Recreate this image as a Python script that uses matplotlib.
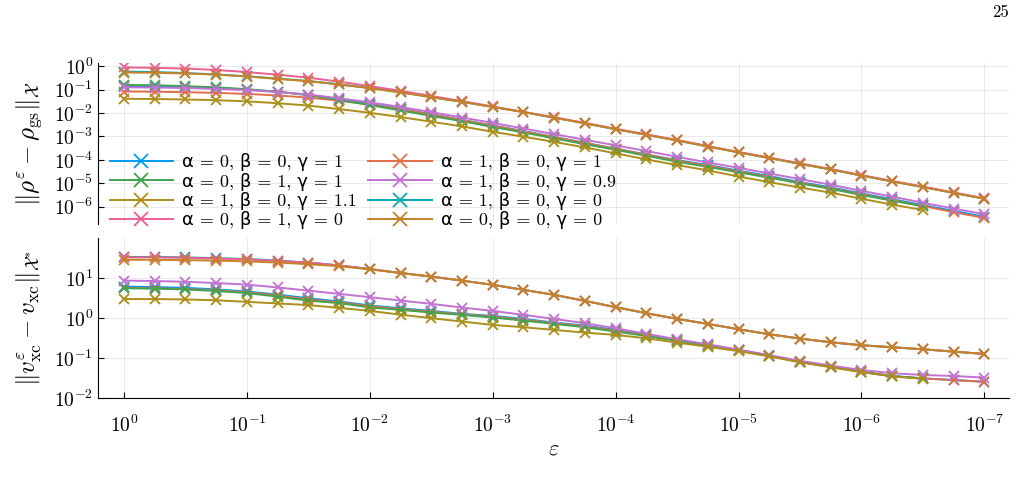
import matplotlib
matplotlib.use("Agg")
import matplotlib.pyplot as plt
from matplotlib.ticker import NullLocator
import numpy as np

plt.rcParams["mathtext.fontset"] = "cm"
plt.rcParams["font.family"] = ["cmr10", "DejaVu Sans"]
plt.rcParams["axes.formatter.use_mathtext"] = True

# epsilon grid: 10^0 ... 10^-7, four points per decade
eps = np.logspace(0, -7, 29)

labels = [
    "α = 0, β = 0, γ = 1",
    "α = 1, β = 0, γ = 1",
    "α = 0, β = 1, γ = 1",
    "α = 1, β = 0, γ = 0.9",
    "α = 1, β = 0, γ = 1.1",
    "α = 1, β = 0, γ = 0",
    "α = 0, β = 1, γ = 0",
    "α = 0, β = 0, γ = 0",
]
colors = ["#009AFA", "#E36F47", "#3EA44E", "#C371D2",
          "#AC8E18", "#00A9AD", "#ED5E93", "#C68225"]

# log10 of ||rho^eps - rho_gs|| (top panel)
rho_blue = [-0.86, -0.87, -0.90, -0.94, -1.00, -1.09, -1.22, -1.40, -1.60, -1.82,
            -2.05, -2.29, -2.53, -2.77, -3.02, -3.27, -3.52, -3.77, -4.01, -4.22,
            -4.46, -4.69, -4.95, -5.17, -5.43, -5.68, -5.93, -6.18, -6.43]
rho_orange = [-1.08, -1.09, -1.11, -1.14, -1.18, -1.25, -1.34, -1.47, -1.64, -1.84,
              -2.06, -2.30, -2.54, -2.78, -3.03, -3.28, -3.53, -3.78, -4.03, -4.25,
              -4.49, -4.73, -4.98, -5.21, -5.47, -5.72, -5.97, -6.23, -6.48]
rho_green = [-0.80, -0.81, -0.85, -0.90, -0.98, -1.09, -1.24, -1.44, -1.66, -1.89,
             -2.12, -2.35, -2.59, -2.83, -3.08, -3.33, -3.57, -3.82, -4.08, -4.30,
             -4.53, -4.76, -5.00, -5.24, -5.50, -5.74, -5.98]
rho_purple = [-0.90, -0.91, -0.93, -0.97, -1.02, -1.10, -1.21, -1.37, -1.54, -1.74,
              -1.96, -2.19, -2.42, -2.66, -2.90, -3.14, -3.38, -3.62, -3.87, -4.11,
              -4.34, -4.58, -4.82, -5.06, -5.32, -5.57, -5.83, -6.08, -6.32]
rho_gold = [-1.39, -1.40, -1.42, -1.45, -1.50, -1.58, -1.68, -1.83, -1.99, -2.17,
            -2.37, -2.57, -2.80, -3.01, -3.23, -3.47, -3.72, -3.98, -4.22, -4.45,
            -4.71, -4.95, -5.18, -5.40, -5.66, -5.91, -6.14]
rho_teal = [-0.23, -0.25, -0.29, -0.35, -0.43, -0.53, -0.63, -0.77, -0.93, -1.11,
            -1.32, -1.52, -1.74, -1.96, -2.20, -2.44, -2.69, -2.93, -3.17, -3.43,
            -3.68, -3.92, -4.17, -4.41, -4.67, -4.92, -5.16, -5.41, -5.66]
rho_pink = [-0.05, -0.07, -0.10, -0.16, -0.25, -0.36, -0.49, -0.66, -0.85, -1.05,
            -1.27, -1.49, -1.72, -1.95, -2.18, -2.42, -2.67, -2.91, -3.15, -3.41,
            -3.66, -3.90, -4.15, -4.39, -4.65, -4.90, -5.14, -5.39, -5.64]
rho_brown = [-0.27, -0.28, -0.31, -0.36, -0.44, -0.54, -0.64, -0.78, -0.94, -1.12,
             -1.32, -1.52, -1.74, -1.96, -2.20, -2.44, -2.69, -2.93, -3.17, -3.43,
             -3.68, -3.92, -4.17, -4.41, -4.67, -4.92, -5.16, -5.41, -5.66]

# log10 of ||v_xc^eps - v_xc|| (bottom panel)
v_blue = [0.78, 0.77, 0.75, 0.71, 0.66, 0.58, 0.49, 0.41, 0.31, 0.24,
          0.175, 0.10, 0.05, -0.025, -0.117, -0.192, -0.30, -0.425, -0.55, -0.675,
          -0.80, -0.942, -1.092, -1.217, -1.342, -1.45, -1.508, -1.55, -1.592]
v_orange = [0.75, 0.74, 0.72, 0.69, 0.64, 0.56, 0.46, 0.39, 0.29, 0.22,
            0.155, 0.09, 0.03, -0.045, -0.13, -0.21, -0.32, -0.44, -0.56, -0.68,
            -0.80, -0.945, -1.095, -1.22, -1.345, -1.455, -1.51, -1.555, -1.595]
v_green = [0.74, 0.73, 0.71, 0.67, 0.62, 0.53, 0.43, 0.37, 0.26, 0.20,
           0.133, 0.075, 0.008, -0.067, -0.15, -0.233, -0.342, -0.45, -0.575, -0.69,
           -0.81, -0.95, -1.10, -1.225, -1.35, -1.455, -1.51]
v_purple = [0.93, 0.92, 0.90, 0.87, 0.83, 0.76, 0.68, 0.60, 0.517, 0.433,
            0.35, 0.258, 0.175, 0.075, -0.025, -0.133, -0.258, -0.40, -0.533, -0.66,
            -0.79, -0.93, -1.07, -1.19, -1.30, -1.38, -1.425, -1.45, -1.49]
v_gold = [0.47, 0.47, 0.46, 0.44, 0.40, 0.36, 0.32, 0.25, 0.175, 0.08,
          -0.008, -0.092, -0.175, -0.233, -0.30, -0.367, -0.425, -0.508, -0.617, -0.72,
          -0.83, -0.96, -1.11, -1.23, -1.35, -1.46, -1.52]
v_teal = [1.52, 1.52, 1.51, 1.49, 1.47, 1.43, 1.38, 1.31, 1.22, 1.12,
          1.03, 0.93, 0.825, 0.70, 0.575, 0.425, 0.267, 0.117, -0.025, -0.15,
          -0.283, -0.408, -0.517, -0.608, -0.683, -0.733, -0.783, -0.842, -0.90]
v_pink = [1.51, 1.51, 1.50, 1.48, 1.46, 1.42, 1.38, 1.31, 1.22, 1.12,
          1.03, 0.93, 0.825, 0.70, 0.575, 0.425, 0.267, 0.117, -0.025, -0.15,
          -0.283, -0.408, -0.517, -0.608, -0.683, -0.733, -0.783, -0.842, -0.90]
v_brown = [1.45, 1.45, 1.44, 1.43, 1.41, 1.38, 1.34, 1.29, 1.21, 1.12,
           1.03, 0.93, 0.825, 0.70, 0.575, 0.425, 0.267, 0.117, -0.025, -0.15,
           -0.283, -0.408, -0.517, -0.608, -0.683, -0.733, -0.783, -0.842, -0.90]

rho_all = [rho_blue, rho_orange, rho_green, rho_purple, rho_gold, rho_teal, rho_pink, rho_brown]
v_all = [v_blue, v_orange, v_green, v_purple, v_gold, v_teal, v_pink, v_brown]

fig = plt.figure(figsize=(10.27, 4.86), dpi=100)
ax1 = fig.add_axes([0.0954, 0.539, 0.887, 0.331])
ax2 = fig.add_axes([0.0954, 0.181, 0.887, 0.329])

handles = []
for ax, data in ((ax1, rho_all), (ax2, v_all)):
    for vals, c, lab in zip(data, colors, labels):
        y = 10.0 ** np.array(vals)
        h, = ax.plot(eps[:len(y)], y, color=c, lw=1.4, marker="x", ms=7, mew=1.3,
                     label=lab)
        if ax is ax1:
            handles.append(h)

for ax in (ax1, ax2):
    ax.set_xscale("log")
    ax.set_yscale("log")
    ax.set_xlim(10 ** 0.2116, 10 ** -7.2)
    ax.set_xticks([10.0 ** -k for k in range(8)])
    ax.xaxis.set_minor_locator(NullLocator())
    ax.yaxis.set_minor_locator(NullLocator())
    ax.grid(True, color="black", alpha=0.1, lw=0.6)
    ax.tick_params(direction="in", labelsize=14, length=4, width=0.8)
    for s in ("top", "right"):
        ax.spines[s].set_visible(False)

ax1.set_ylim(10 ** -6.74, 10 ** 0.13)
ax1.set_yticks([10.0 ** -k for k in range(7)])
ax1.spines["bottom"].set_visible(False)
ax1.tick_params(axis="x", length=0, labelbottom=False)

ax2.set_ylim(1e-2, 10 ** 1.99)
ax2.set_yticks([1e-2, 1e-1, 1e0, 1e1])
ax2.tick_params(axis="x", pad=12)

ax1.set_ylabel(r"$\|\rho^{\varepsilon} - \rho_{\mathrm{gs}}\|_{\mathcal{X}}$", fontsize=18, labelpad=7)
ax2.set_ylabel(r"$\|v^{\varepsilon}_{\mathrm{xc}} - v_{\mathrm{xc}}\|_{\mathcal{X}^{*}}$", fontsize=18, labelpad=7)
ax2.set_xlabel(r"$\varepsilon$", fontsize=16, labelpad=2)
fig.align_ylabels([ax1, ax2])

order = [0, 2, 4, 6, 1, 3, 5, 7]
ax1.legend([handles[i] for i in order], [labels[i] for i in order], ncol=2,
           loc="lower left", bbox_to_anchor=(0.003, -0.09), frameon=False,
           fontsize=13, handlelength=3.5, handletextpad=0.5, columnspacing=0.65,
           labelspacing=0.08, borderpad=0, markerscale=1.35)

fig.text(0.974, 0.975, "25", fontsize=12, ha="center", va="center")

fig.savefig("out.png", dpi=100)
